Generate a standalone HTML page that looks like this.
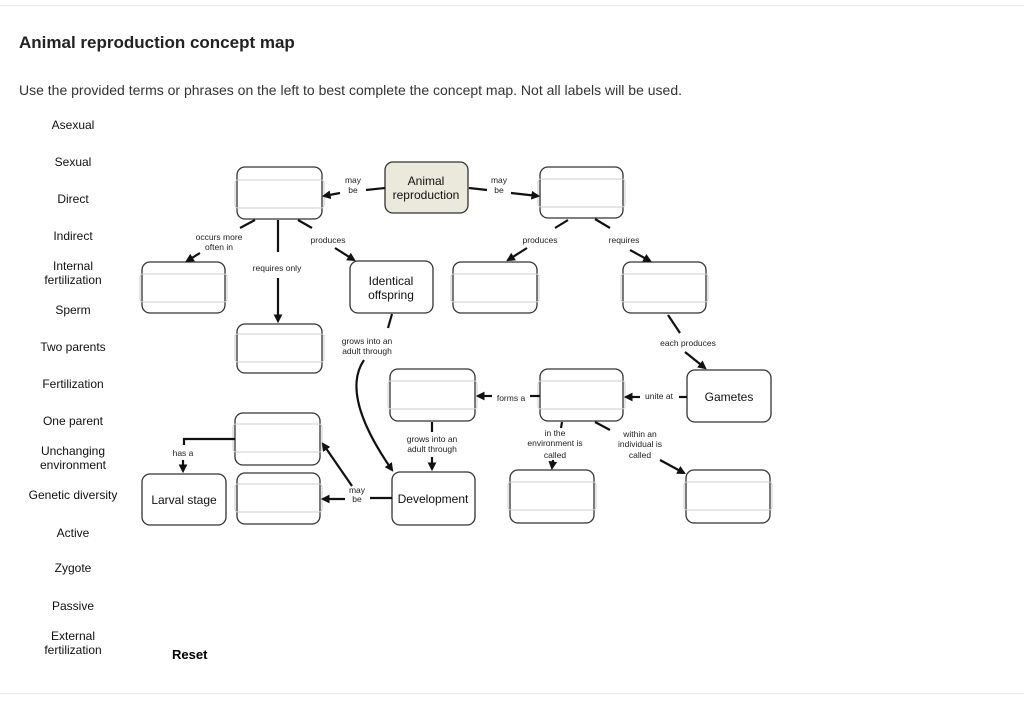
<!DOCTYPE html>
<html><head><meta charset="utf-8"><style>
body{margin:0;width:1024px;height:702px;background:#fff;font-family:"Liberation Sans",sans-serif;overflow:hidden;position:relative}
.t{position:absolute;left:19px;top:33px;font-size:17px;font-weight:bold;color:#222}
.s{position:absolute;left:19px;top:82px;font-size:14px;color:#333}
.hl{position:absolute;left:0;width:1024px;height:1px;background:#e6e6e6}
.lb{position:absolute;width:110px;left:18px;text-align:center;font-size:12px;color:#111;line-height:14px}
</style></head><body>
<div class="hl" style="top:5px"></div>
<div class="hl" style="top:693px"></div>
<div class="t">Animal reproduction concept map</div>
<div class="s">Use the provided terms or phrases on the left to best complete the concept map. Not all labels will be used.</div>
<div class="lb" style="top:118px">Asexual</div>
<div class="lb" style="top:155px">Sexual</div>
<div class="lb" style="top:192px">Direct</div>
<div class="lb" style="top:229px">Indirect</div>
<div class="lb" style="top:259px">Internal<br>fertilization</div>
<div class="lb" style="top:303px">Sperm</div>
<div class="lb" style="top:340px">Two parents</div>
<div class="lb" style="top:377px">Fertilization</div>
<div class="lb" style="top:414px">One parent</div>
<div class="lb" style="top:444px">Unchanging<br>environment</div>
<div class="lb" style="top:488px">Genetic diversity</div>
<div class="lb" style="top:526px">Active</div>
<div class="lb" style="top:561px">Zygote</div>
<div class="lb" style="top:599px">Passive</div>
<div class="lb" style="top:629px">External<br>fertilization</div>
<div style="position:absolute;left:172px;top:647px;font-size:13px;font-weight:bold">Reset</div>
<svg width="1024" height="702" style="position:absolute;left:0;top:0" font-family="Liberation Sans, sans-serif">
<defs><marker id="a" markerWidth="4" markerHeight="4" refX="3" refY="2" orient="auto"><path d="M0,0L4,2L0,4z" fill="#111"/></marker></defs>
<g fill="#fff" stroke="#333" stroke-width="1.3">
<rect x="237" y="167" width="85" height="52" rx="8"/>
<rect x="385" y="162" width="83" height="51" rx="8" fill="#ebe8dc"/>
<rect x="540" y="167" width="83" height="51" rx="8"/>
<rect x="142" y="262" width="83" height="51" rx="8"/>
<rect x="350" y="261" width="83" height="52" rx="8"/>
<rect x="453" y="262" width="84" height="51" rx="8"/>
<rect x="623" y="262" width="83" height="51" rx="8"/>
<rect x="237" y="324" width="85" height="49" rx="8"/>
<rect x="390" y="369" width="85" height="52" rx="8"/>
<rect x="540" y="369" width="83" height="52" rx="8"/>
<rect x="687" y="370" width="84" height="52" rx="8"/>
<rect x="235" y="413" width="85" height="52" rx="8"/>
<rect x="237" y="473" width="83" height="51" rx="8"/>
<rect x="142" y="474" width="84" height="51" rx="8"/>
<rect x="392" y="472" width="83" height="53" rx="8"/>
<rect x="510" y="470" width="84" height="53" rx="8"/>
<rect x="686" y="470" width="84" height="53" rx="8"/>
</g>
<g fill="none" stroke="#ccc" stroke-width="1">
<rect x="235" y="180" width="89" height="28" rx="3"/>
<rect x="538" y="179" width="87" height="28" rx="3"/>
<rect x="140" y="274" width="87" height="28" rx="3"/>
<rect x="451" y="274" width="88" height="28" rx="3"/>
<rect x="621" y="274" width="87" height="28" rx="3"/>
<rect x="235" y="334" width="89" height="28" rx="3"/>
<rect x="388" y="381" width="89" height="28" rx="3"/>
<rect x="538" y="381" width="87" height="28" rx="3"/>
<rect x="233" y="424" width="89" height="28" rx="3"/>
<rect x="235" y="484" width="87" height="28" rx="3"/>
<rect x="508" y="482" width="88" height="28" rx="3"/>
<rect x="684" y="482" width="88" height="28" rx="3"/>
</g>
<g font-size="12" fill="#111" text-anchor="middle">
<text x="426" y="185">Animal</text><text x="426" y="199">reproduction</text>
<text x="391" y="285">Identical</text><text x="391" y="299">offspring</text>
<text x="729" y="401">Gametes</text>
<text x="184" y="504">Larval stage</text>
<text x="433" y="503">Development</text>
</g>
<g font-size="8.5" fill="#222" text-anchor="middle">
<text x="353" y="183">may</text><text x="353" y="193">be</text>
<text x="499" y="183">may</text><text x="499" y="193">be</text>
<text x="219" y="240">occurs more</text><text x="219" y="250">often in</text>
<text x="277" y="271">requires only</text>
<text x="328" y="243">produces</text>
<text x="540" y="243">produces</text>
<text x="624" y="243">requires</text>
<text x="367" y="344">grows into an</text><text x="367" y="354">adult through</text>
<text x="688" y="346">each produces</text>
<text x="659" y="399">unite at</text>
<text x="511" y="401">forms a</text>
<text x="432" y="442">grows into an</text><text x="432" y="452">adult through</text>
<text x="555" y="436">in the</text><text x="555" y="446">environment is</text><text x="555" y="458">called</text>
<text x="640" y="437">within an</text><text x="640" y="447">individual is</text><text x="640" y="458">called</text>
<text x="183" y="456">has a</text>
<text x="357" y="493">may</text><text x="357" y="502">be</text>
</g>
<g stroke="#111" stroke-width="2.2" fill="none">
<path d="M385,188L366,190"/><path d="M340,193L324,196" marker-end="url(#a)"/>
<path d="M469,188L487,190"/><path d="M511,193L538,196" marker-end="url(#a)"/>
<path d="M255,220L240,228"/><path d="M200,253L187,261" marker-end="url(#a)"/>
<path d="M278,220L278,252"/><path d="M278,278L278,321" marker-end="url(#a)"/>
<path d="M298,220L312,228"/><path d="M335,248L354,260" marker-end="url(#a)"/>
<path d="M568,220L555,228"/><path d="M527,248L508,260" marker-end="url(#a)"/>
<path d="M595,219L610,228"/><path d="M630,250L650,261" marker-end="url(#a)"/>
<path d="M392,314L388,328"/>
<path d="M364,360Q340,395 392,470" marker-end="url(#a)"/>
<path d="M668,315L680,333"/><path d="M685,352L705,368" marker-end="url(#a)"/>
<path d="M687,397L679,397"/><path d="M640,397L626,397" marker-end="url(#a)"/>
<path d="M540,396L530,396"/><path d="M492,396L478,396" marker-end="url(#a)"/>
<path d="M432,422L432,432"/><path d="M432,457L432,469" marker-end="url(#a)"/>
<path d="M562,422L561,428"/><path d="M553,460L552,468" marker-end="url(#a)"/>
<path d="M595,422L610,430"/><path d="M660,460L684,473" marker-end="url(#a)"/>
<path d="M235,439L184,439L184,445"/><path d="M183,460L183,471" marker-end="url(#a)"/>
<path d="M352,486L323,444" marker-end="url(#a)"/>
<path d="M392,498L370,498"/><path d="M345,499L323,499" marker-end="url(#a)"/>
</g>
</svg>
</body></html>
